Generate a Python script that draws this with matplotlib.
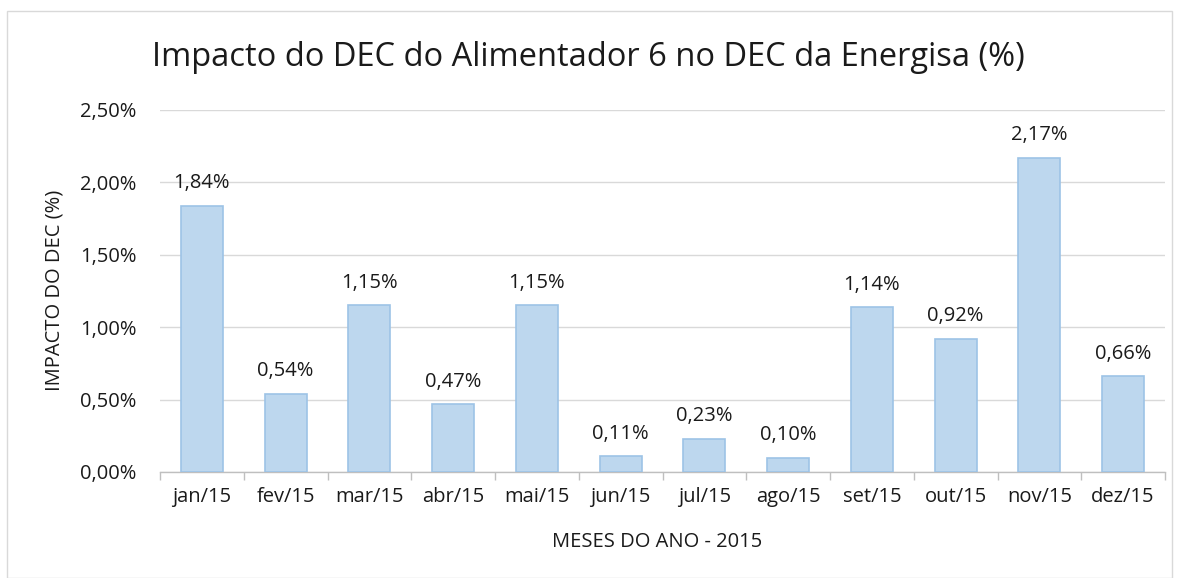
import matplotlib
matplotlib.use("Agg")
import matplotlib.pyplot as plt
from matplotlib.patches import Rectangle
from matplotlib.ticker import FuncFormatter, MultipleLocator

plt.rcParams['font.family'] = ['Open Sans', 'DejaVu Sans']

categories = ["jan/15", "fev/15", "mar/15", "abr/15", "mai/15", "jun/15",
              "jul/15", "ago/15", "set/15", "out/15", "nov/15", "dez/15"]
values = [1.84, 0.54, 1.15, 0.47, 1.15, 0.11, 0.23, 0.10, 1.14, 0.92, 2.17, 0.66]
title = "Impacto do DEC do Alimentador 6 no DEC da Energisa (%)"
ylabel = "IMPACTO DO DEC (%)"
xlabel = "MESES DO ANO - 2015"

def pct(v, decimals=2):
    return f"{v:.{decimals}f}".replace(".", ",") + "%"

FS = 14.5

fig = plt.figure(figsize=(11.8, 5.78), dpi=100)
fig.patches.append(Rectangle((7/1180, 0), (1172-7)/1180, 1 - 11/578,
                             transform=fig.transFigure, fill=False,
                             edgecolor="#d9d9d9", linewidth=1.0))
ax = fig.add_axes([160/1180, 1 - 472/578, (1165-160)/1180, (472-110)/578])

x = list(range(len(categories)))
bars = ax.bar(x, values, width=0.5, color="#BDD7EE", edgecolor="#9DC3E6",
              linewidth=1.2, zorder=3)
for xi, v in zip(x, values):
    ax.text(xi, v + 0.085, pct(v), ha="center", va="bottom", fontsize=FS,
            color="#1a1a1a")

ax.set_xlim(-0.5, len(categories) - 0.5)
ax.set_ylim(0, 2.5)
ax.yaxis.set_major_locator(MultipleLocator(0.5))
ax.yaxis.set_major_formatter(FuncFormatter(lambda v, p: pct(v)))
ax.grid(axis="y", color="#d9d9d9", linewidth=1.0, zorder=0)
ax.set_axisbelow(True)

ax.set_xticks(x)
ax.set_xticklabels(categories)
ax.set_xticks([i - 0.5 for i in range(len(categories) + 1)], minor=True)
ax.tick_params(axis="x", which="major", length=0, pad=11, labelsize=FS,
               labelcolor="#1a1a1a")
ax.tick_params(axis="x", which="minor", length=6, color="#bfbfbf", width=1.0)
ax.tick_params(axis="y", length=0, pad=17, labelsize=FS, labelcolor="#1a1a1a")

for s in ["top", "right", "left"]:
    ax.spines[s].set_visible(False)
ax.spines["bottom"].set_color("#bfbfbf")
ax.spines["bottom"].set_linewidth(1.0)

fig.text(588/1180, 1 - 58/578, title, ha="center", va="center", fontsize=23.5,
         color="#1a1a1a")
fig.text(55/1180, 1 - 290/578, ylabel, ha="center", va="center", rotation=90,
         fontsize=FS, color="#1a1a1a")
fig.text(657/1180, 1 - 542/578, xlabel, ha="center", va="center",
         fontsize=FS, color="#1a1a1a")

fig.savefig("out.png", dpi=100)
